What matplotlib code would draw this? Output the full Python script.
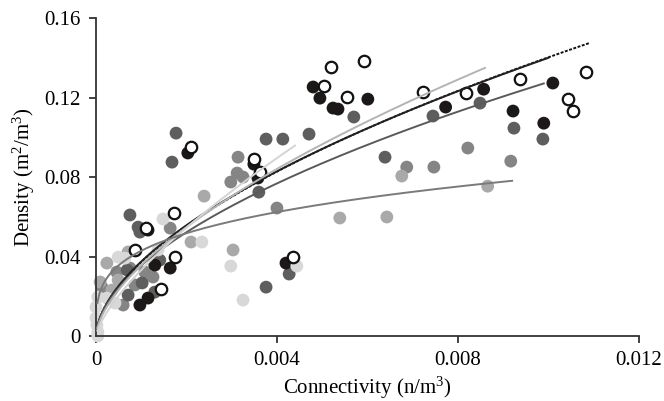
import matplotlib.pyplot as plt
import numpy as np

plt.rcParams['font.family'] = ['Liberation Serif', 'DejaVu Serif']
plt.rcParams['mathtext.fontset'] = 'custom'
plt.rcParams['mathtext.rm'] = 'Liberation Serif'
plt.rcParams['mathtext.it'] = 'Liberation Serif:italic'

# connectivity (n/m3), density (m2/m3) per group
black_x = [0.00203, 0.00349, 0.00358, 0.00480, 0.00495, 0.00524, 0.00535, 0.00601,
           0.00773, 0.00857, 0.01010, 0.00922, 0.00990, 0.00420, 0.00115, 0.00130,
           0.00164, 0.00115, 0.00097]
black_y = [0.0921, 0.0865, 0.0795, 0.1253, 0.1197, 0.1147, 0.1142, 0.1192,
           0.1152, 0.1242, 0.1273, 0.1132, 0.1071, 0.0367, 0.0533, 0.0357,
           0.0342, 0.0191, 0.0156]

open_x = [0.00210, 0.00349, 0.00362, 0.00504, 0.00519, 0.00592, 0.00555, 0.00723,
          0.00818, 0.00937, 0.01083, 0.01043, 0.01054, 0.00435, 0.00172, 0.00086,
          0.00175, 0.00144, 0.00111]
open_y = [0.0951, 0.0890, 0.0825, 0.1258, 0.1353, 0.1383, 0.1202, 0.1227,
          0.1222, 0.1293, 0.1328, 0.1192, 0.1132, 0.0397, 0.0619, 0.0433,
          0.0397, 0.0236, 0.0543]

dark_x = [0.00177, 0.00168, 0.00376, 0.00413, 0.00471, 0.00360, 0.00570, 0.00745,
          0.00849, 0.00924, 0.00988, 0.00639, 0.00427, 0.00376, 0.00075, 0.00093,
          0.00097, 0.00141, 0.00069, 0.00102, 0.00130, 0.00071]
dark_y = [0.1021, 0.0875, 0.0991, 0.0991, 0.1016, 0.0724, 0.1102, 0.1107,
          0.1172, 0.1046, 0.0991, 0.0900, 0.0312, 0.0246, 0.0609, 0.0548,
          0.0523, 0.0382, 0.0332, 0.0267, 0.0221, 0.0206]

mid_x = [0.00314, 0.00298, 0.00312, 0.00325, 0.00687, 0.00747, 0.00822, 0.00917,
         0.00400, 0.00164, 0.00046, 0.00075, 0.00108, 0.00126, 0.00013, 0.00086,
         0.00060]
mid_y = [0.0900, 0.0775, 0.0820, 0.0800, 0.0850, 0.0850, 0.0946, 0.0880,
         0.0644, 0.0543, 0.0322, 0.0342, 0.0322, 0.0297, 0.0246, 0.0257,
         0.0156]

light_x = [0.00239, 0.00676, 0.00866, 0.00539, 0.00643, 0.00303, 0.00210, 0.00024,
           0.00009, 0.00049, 0.00035, 0.00071]
light_y = [0.0704, 0.0805, 0.0754, 0.0594, 0.0599, 0.0433, 0.0473, 0.0367,
           0.0272, 0.0282, 0.0231, 0.0423]

pale_x = [0.00148, 0.00234, 0.00049, 0.00064, 0.00137, 0.00298, 0.00325, 0.00444,
          0.00004, 0.00024, 0.0, 0.00042, 0.0, 0.00002, 0.00004, 0.00004]
pale_y = [0.0589, 0.0473, 0.0397, 0.0392, 0.0433, 0.0352, 0.0181, 0.0352,
          0.0196, 0.0191, 0.0146, 0.0166, 0.0091, 0.0055, 0.0020, 0.0]

# power-law fits y = a * x^b, drawn up to x_end
fit_a = [1.99, 1.95, 1.654, 2.55, 4.64, 0.277]
fit_b = [0.576, 0.572, 0.556, 0.618, 0.715, 0.270]
fit_end = [0.0109, 0.0100, 0.0099, 0.0086, 0.0044, 0.0092]
fit_col = ['#111111', '#222222', '#5a5a5a', '#b4b4b4', '#d4d4d4', '#7a7a7a']
fit_ls = [(0, (1.5, 0.8)), '-', '-', '-', '-', '-']

fig = plt.figure(figsize=(6.64, 4.01), dpi=100)
ax = fig.add_axes([0.1446, 0.162, 0.8174, 0.793])

ms = 85
groups = [(mid_x, mid_y, '#858585'), (light_x, light_y, '#a9a9a9'),
          (dark_x, dark_y, '#5e5e5e'), (black_x, black_y, '#1c1818'),
          (pale_x, pale_y, '#d8d8d8')]
for gx, gy, c in groups:
    ax.scatter(gx, gy, s=ms, c=c, edgecolors='none', zorder=2, clip_on=False)
ax.scatter(open_x, open_y, s=ms * 0.8, facecolors='white', edgecolors='#111111',
           linewidths=1.6, zorder=2.5, clip_on=False)

for a, b, xe, c, ls in zip(fit_a, fit_b, fit_end, fit_col, fit_ls):
    xx = np.linspace(0.00003, xe, 200)
    ax.plot(xx, a * xx ** b, color=c, ls=ls, lw=1.4, zorder=3)

ax.set_xlim(0, 0.012)
ax.set_ylim(0, 0.16)
ax.set_xticks([0, 0.004, 0.008, 0.012])
ax.set_xticklabels(['0', '0.004', '0.008', '0.012'])
ax.set_yticks([0, 0.04, 0.08, 0.12, 0.16])
ax.set_yticklabels(['0', '0.04', '0.08', '0.12', '0.16'])
for s in ['top', 'right']:
    ax.spines[s].set_visible(False)
for s in ['left', 'bottom']:
    ax.spines[s].set_linewidth(1.3)
    ax.spines[s].set_color('#333333')
ax.tick_params(direction='out', length=5, width=1.3, color='#333333',
               labelsize=15, pad=6)
ax.set_xlabel('Connectivity (n/m$^3$)', fontsize=15, labelpad=3)
ax.set_ylabel('Density (m$^2$/m$^3$)', fontsize=15, labelpad=5)

plt.savefig('out.png', dpi=100)
